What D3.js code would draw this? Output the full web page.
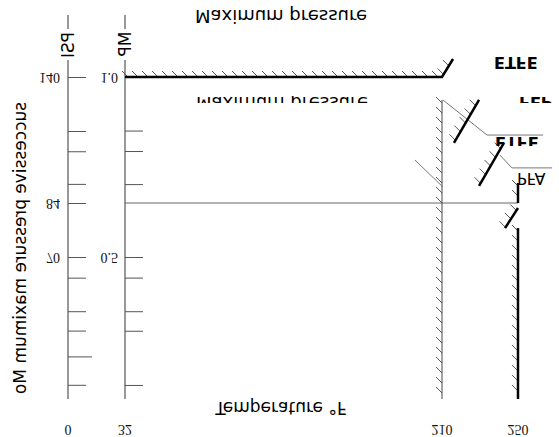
<!DOCTYPE html>
<html>
<head>
<meta charset="utf-8">
<script src="https://cdn.jsdelivr.net/npm/d3@7"></script>
<style>
body { margin: 0; background: #fff; }
</style>
</head>
<body>
<svg id="chart" width="559" height="437"></svg>
<script>
// tick values
var tempTicks = [0, 32, 210, 250];
var psiLabelTicks = [140, 84, 70];
var psiMinorTicks = [116, 107, 92.5, 62, 49, 41.5, 20.5];
var psiLongTicks = [31.5];
var mpLabelTicks = [1.0, 0.5];
var mpMinorTicks = [0.83, 0.765, 0.66, 0.443, 0.35, 0.296, 0.146];

// lines, as [temperature °F, psi]
var ratingLine = [[32, 140], [210, 140], [215.8, 148]];
var limit210 = [[210, 129.8], [210, 15]];
var line84 = [[32, 84], [250, 84]];
var etfeSlope = [[216.3, 110.7], [229.5, 129.8]];
var fepSlope = [[229.5, 91.6], [242.6, 110.7]];
var pfaTop = [[250, 92.9], [250, 84]];
var pfaSlope = [[250, 82.7], [243.2, 77.5]];
var pfaLimit = [[250, 77.5], [250, 15]];
var leaderEtfe = [[210.5, 129.8], [233.7, 114.2], [263.2, 114.2]];
var leaderPfa = [[240.5, 105.3], [246.8, 99.6], [267.9, 99.6]];
var strayLine = [[194.8, 103.1], [210.5, 91.1]];

var svg = d3.select("#chart");
var serif = "'Liberation Serif', serif";
var sans = "'DejaVu Sans', sans-serif";

var x = d3.scaleLinear().domain([0, 32, 210, 250]).range([68, 125, 442, 518]);
var y = d3.scaleLinear().domain([15, 70, 84, 140]).range([399, 257, 203, 77]);
var yMp = d3.scaleLinear().domain(y.domain().map(function(v) { return v / 140; })).range(y.range());

var line = d3.line()
	.x(function(d) { return x(d[0]); })
	.y(function(d) { return y(d[1]); });

// clip areas for the half hidden labels
var defs = svg.append("defs");
defs.append("clipPath").attr("id", "clipA")
	.append("rect").attr("x", 0).attr("y", 96).attr("width", 559).attr("height", 7);
defs.append("clipPath").attr("id", "clipB")
	.append("rect").attr("x", 0).attr("y", 137).attr("width", 559).attr("height", 9);

// vertical axis lines (broken where the unit label sits)
[x(0), x(32)].forEach(function(ax) {
	svg.append("line").attr("x1", ax).attr("x2", ax).attr("y1", 15).attr("y2", 29)
		.attr("stroke", "#333");
	svg.append("line").attr("x1", ax).attr("x2", ax).attr("y1", 60).attr("y2", y(15))
		.attr("stroke", "#333");
});

// PSI axis
var gPsi = svg.append("g")
	.attr("transform", "translate(" + x(0) + ",0)")
	.call(d3.axisLeft(y)
		.tickValues(psiLabelTicks.concat(psiMinorTicks))
		.tickSize(-18).tickPadding(8)
		.tickFormat(function(d) { return psiLabelTicks.indexOf(d) >= 0 ? d : ""; }));
gPsi.append("g").call(d3.axisLeft(y).tickValues(psiLongTicks).tickSize(-24).tickFormat(""));
gPsi.selectAll(".domain").remove();

// MP axis
var gMp = svg.append("g")
	.attr("transform", "translate(" + x(32) + ",0)")
	.call(d3.axisLeft(yMp)
		.tickValues(mpLabelTicks.concat(mpMinorTicks))
		.tickSize(-18).tickPadding(7)
		.tickFormat(function(d) { return mpLabelTicks.indexOf(d) >= 0 ? d3.format(".1f")(d) : ""; }));
gMp.selectAll(".domain").remove();

[gPsi, gMp].forEach(function(g) {
	g.attr("color", "#555").attr("font-family", serif).attr("font-size", 14);
	g.selectAll("text").attr("fill", "#111").attr("transform", "scale(1,-1)");
});

// temperature labels
svg.selectAll(".tlab").data(tempTicks).enter().append("text")
	.attr("class", "tlab")
	.attr("transform", function(d) { return "translate(" + x(d) + ",429) scale(1,-1)"; })
	.attr("text-anchor", "middle").attr("dy", "0.32em")
	.attr("font-family", serif).attr("font-size", 14).attr("fill", "#111")
	.text(function(d) { return d; });

// hatch marks along a line, on its upper left side
function hatch(points, step) {
	var px = points.map(function(d) { return [x(d[0]), y(d[1])]; });
	var marks = [];
	for (var i = 0; i < px.length - 1; i++) {
		var a = px[i], b = px[i + 1];
		var len = Math.hypot(b[0] - a[0], b[1] - a[1]);
		for (var s = 3; s < len; s += step) {
			var t = s / len;
			marks.push([a[0] + (b[0] - a[0]) * t, a[1] + (b[1] - a[1]) * t]);
		}
	}
	svg.append("g").selectAll("line").data(marks).enter().append("line")
		.attr("x1", function(d) { return d[0] - 6; })
		.attr("y1", function(d) { return d[1] - 6; })
		.attr("x2", function(d) { return d[0]; })
		.attr("y2", function(d) { return d[1]; })
		.attr("stroke", "#555").attr("stroke-width", 1);
}

[ratingLine, limit210, etfeSlope, fepSlope, pfaTop, pfaSlope, pfaLimit].forEach(function(p) {
	hatch(p, 10);
});

// thin lines
svg.append("path").attr("d", line(line84)).attr("fill", "none").attr("stroke", "#666").attr("stroke-width", 1);
svg.append("path").attr("d", line(limit210)).attr("fill", "none").attr("stroke", "#444").attr("stroke-width", 1);
[leaderEtfe, leaderPfa, strayLine].forEach(function(p) {
	svg.append("path").attr("d", line(p)).attr("fill", "none").attr("stroke", "#777").attr("stroke-width", 1);
});

// thick lines
[ratingLine, etfeSlope, fepSlope, pfaTop, pfaSlope, pfaLimit].forEach(function(p) {
	svg.append("path").attr("d", line(p)).attr("fill", "none")
		.attr("stroke", "#000").attr("stroke-width", 2.5);
});

// flipped text helper (clip goes on a wrapper group so it stays in page space)
function flipText(txt, tx, ty, size, family, opts) {
	opts = opts || {};
	var parent = svg.append("g");
	if (opts.clip) parent.attr("clip-path", "url(#" + opts.clip + ")");
	var t = parent.append("text")
		.attr("transform", "translate(" + tx + "," + ty + ") scale(1,-1)" + (opts.rotate ? " rotate(" + opts.rotate + ")" : ""))
		.attr("text-anchor", opts.anchor || "start")
		.attr("font-family", family).attr("font-size", size)
		.attr("font-weight", opts.bold ? "bold" : "normal")
		.attr("fill", "#000")
		.text(txt);
	if (opts.dy) t.attr("dy", opts.dy);
	return t;
}

flipText("Maximum pressure", 281, 10, 18, sans, { anchor: "middle" });
flipText("Maximum pressure", 282, 97, 18, sans, { anchor: "middle", clip: "clipA" });
flipText("Temperature °F", 281, 402, 17, sans, { anchor: "middle" });
flipText("ETFE", 494, 57, 16, sans, { bold: true });
flipText("FEP", 519, 97, 16, sans, { bold: true, clip: "clipA" });
flipText("ETFE", 495, 137, 16, sans, { bold: true, clip: "clipB" });
flipText("PFA", 517, 173, 16, sans);

flipText("PSI", x(0), 45, 17, sans, { anchor: "middle", rotate: -90, dy: "0.36em" });
flipText("MP", x(32), 44, 17, sans, { anchor: "middle", rotate: -90, dy: "0.36em" });
flipText("successive pressure maximum Mo", 20, 248, 17, sans, { anchor: "middle", rotate: -90, dy: "0.36em" });
</script>
</body>
</html>
